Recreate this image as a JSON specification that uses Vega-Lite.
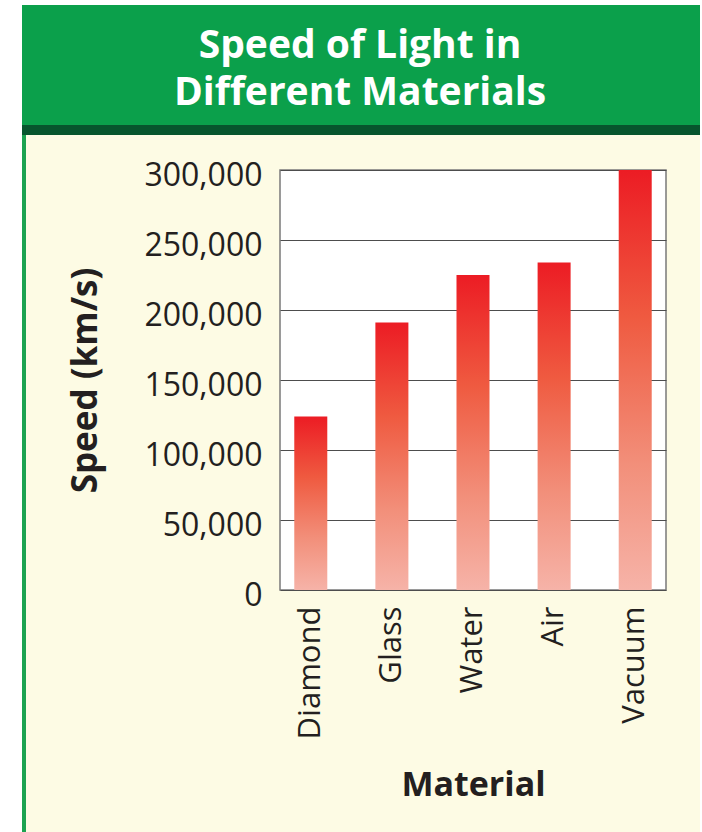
{
  "$schema": "https://vega.github.io/schema/vega-lite/v6.json",
  "background": "#fdfbe4",
  "padding": 0,
  "spacing": 0,
  "bounds": "flush",
  "config": {
    "view": {"stroke": null},
    "font": "Open Sans"
  },
  "datasets": {
    "speeds": [
      {"material": "Diamond", "speed": 124000},
      {"material": "Glass", "speed": 191000},
      {"material": "Water", "speed": 225000},
      {"material": "Air", "speed": 234000},
      {"material": "Vacuum", "speed": 300000}
    ],
    "heading": [
      {"t": "Speed of Light in\nDifferent Materials"}
    ],
    "blank": []
  },
  "hconcat": [
    {
      "width": 20, "height": 832,
      "data": {"name": "blank"},
      "mark": {"type": "text"},
      "encoding": {"text": {"field": "t"}},
      "view": {"fill": "#ffffff", "stroke": null}
    },
    {
      "spacing": 0,
      "bounds": "flush",
      "vconcat": [
        {
          "width": 680, "height": 5,
          "data": {"name": "blank"},
          "mark": {"type": "text"},
          "encoding": {"text": {"field": "t"}},
          "view": {"fill": "#ffffff", "stroke": null}
        },
        {
          "width": 680, "height": 120,
          "data": {"name": "heading"},
          "mark": {"type": "text", "lineBreak": "\n", "fontSize": 39, "fontWeight": "bold", "color": "#ffffff", "lineHeight": 47, "baseline": "middle", "align": "center", "dy": -19},
          "encoding": {"text": {"field": "t"}},
          "view": {"fill": "#0ba04b", "stroke": null}
        },
        {
          "width": 680, "height": 10,
          "data": {"name": "blank"},
          "mark": {"type": "text"},
          "encoding": {"text": {"field": "t"}},
          "view": {"fill": "#07552d", "stroke": null}
        },
        {
          "spacing": 0,
          "bounds": "flush",
          "hconcat": [
            {
              "width": 3, "height": 697,
              "data": {"name": "blank"},
              "mark": {"type": "text"},
              "encoding": {"text": {"field": "t"}},
              "view": {"fill": "#1ca350", "stroke": null}
            },
            {
              "spacing": 0,
              "bounds": "flush",
              "vconcat": [
                {
                  "width": 674, "height": 35,
                  "data": {"name": "blank"},
                  "mark": {"type": "text"},
                  "encoding": {"text": {"field": "t"}}
                },
                {
                  "spacing": 0,
                  "bounds": "flush",
                  "hconcat": [
                    {
                      "width": 257, "height": 420,
                      "data": {"name": "blank"},
                      "mark": {"type": "text"},
                      "encoding": {"text": {"field": "t"}}
                    },
                    {
                      "width": 386, "height": 420,
                      "data": {"name": "speeds"},
                      "mark": {
                        "type": "bar",
                        "color": {
                          "gradient": "linear",
                          "x1": 0, "y1": 0, "x2": 0, "y2": 1,
                          "stops": [
                            {"offset": 0, "color": "#ec1c24"},
                            {"offset": 0.35, "color": "#ef5a40"},
                            {"offset": 0.7, "color": "#f28f7a"},
                            {"offset": 1, "color": "#f6b3a8"}
                          ]
                        }
                      },
                      "encoding": {
                        "x": {
                          "field": "material", "type": "nominal", "sort": null,
                          "scale": {"paddingInner": 0.593, "paddingOuter": 0.176},
                          "axis": {
                            "title": "Material",
                            "labelAngle": -90,
                            "labelFontSize": 31,
                            "labelColor": "#231f20",
                            "labelPadding": 16,
                            "ticks": false,
                            "domain": false,
                            "titleFontSize": 34,
                            "titleFontWeight": "bold",
                            "titleColor": "#231f20",
                            "titlePadding": 30
                          }
                        },
                        "y": {
                          "field": "speed", "type": "quantitative",
                          "scale": {"domain": [0, 300000]},
                          "axis": {
                            "title": "Speed (km/s)",
                            "values": [0, 50000, 100000, 150000, 200000, 250000, 300000],
                            "format": ",d",
                            "labelFontSize": 32,
                            "labelColor": "#231f20",
                            "labelPadding": 18,
                            "labelOffset": 5,
                            "ticks": false,
                            "domain": false,
                            "grid": true,
                            "gridColor": "#4d4d4d",
                            "gridWidth": 1,
                            "gridOpacity": 1,
                            "titleFontSize": 35,
                            "titleFontWeight": "bold",
                            "titleColor": "#231f20",
                            "titlePadding": 40
                          }
                        }
                      },
                      "view": {"fill": "#ffffff", "stroke": "#7a7a7a", "strokeWidth": 1.5}
                    }
                  ]
                }
              ]
            },
            {
              "width": 3, "height": 697,
              "data": {"name": "blank"},
              "mark": {"type": "text"},
              "encoding": {"text": {"field": "t"}},
              "view": {"fill": "#1ca350", "stroke": null}
            }
          ]
        }
      ]
    },
    {
      "width": 2, "height": 832,
      "data": {"name": "blank"},
      "mark": {"type": "text"},
      "encoding": {"text": {"field": "t"}},
      "view": {"fill": "#ffffff", "stroke": null}
    }
  ]
}
